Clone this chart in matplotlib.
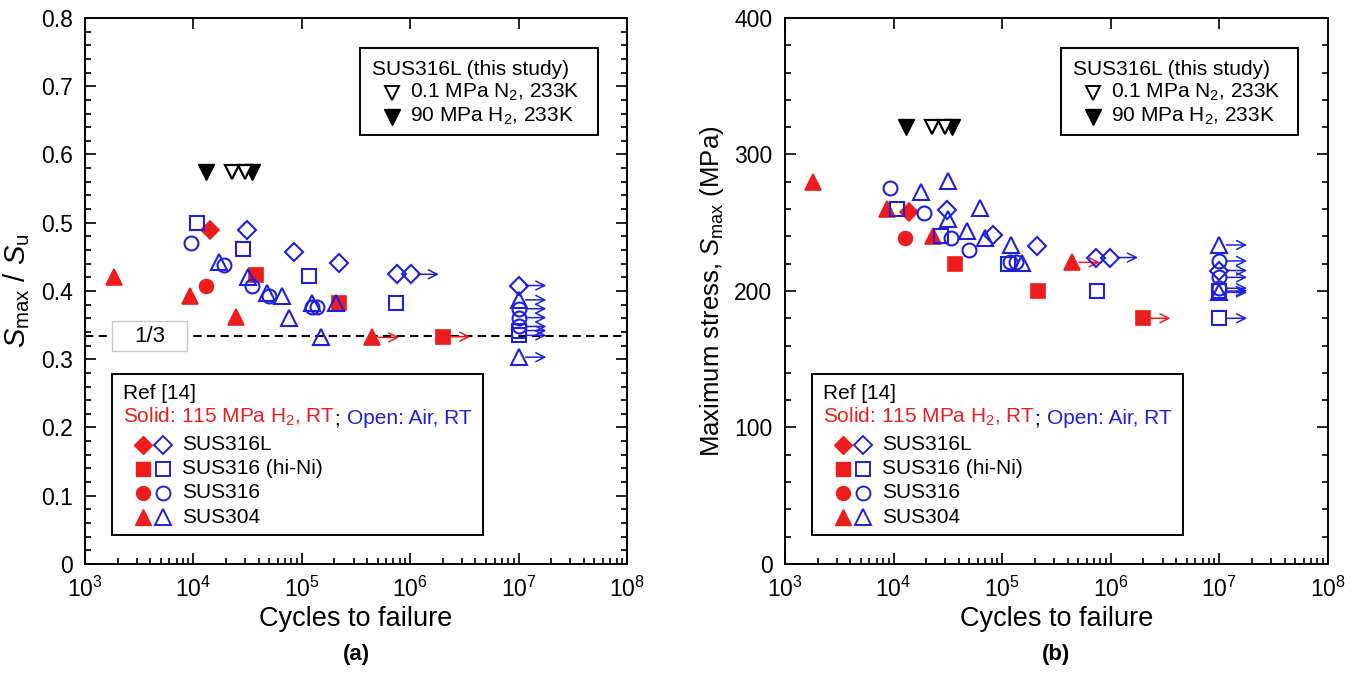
import numpy as np
import matplotlib.pyplot as plt
from matplotlib.patches import Rectangle
from matplotlib.transforms import offset_copy, blended_transform_factory
from matplotlib.ticker import LogLocator, LogFormatterMathtext, MultipleLocator, NullFormatter

plt.rcParams['font.family'] = ['Liberation Sans', 'DejaVu Sans']
plt.rcParams['mathtext.fontset'] = 'custom'
plt.rcParams['mathtext.rm'] = 'Liberation Sans'
plt.rcParams['mathtext.it'] = 'Liberation Sans:italic'
plt.rcParams['mathtext.bf'] = 'Liberation Sans:bold'

RED = '#ee1c1c'
BLUE = '#1f1fe0'

# ---- this study (SUS316L, 233K) ----
study_n2_n = [2.26e4, 3.0e4]      # 0.1 MPa N2 (open)
study_h2_n = [1.31e4, 3.46e4]     # 90 MPa H2 (filled)
study_ratio = 0.575
study_stress = 320

# ---- Ref [14], panel (a): Smax/Su ----
# solid: 115 MPa H2
a_h2_316L_n = [1.43e4]
a_h2_316L_r = [0.489]
a_h2_316hi_n = [3.8e4, 2.18e5, 1.99e6]
a_h2_316hi_r = [0.423, 0.383, 0.333]
a_h2_316hi_run = [False, False, True]
a_h2_316_n = [1.30e4]
a_h2_316_r = [0.408]
a_h2_304_n = [1.87e3, 9.3e3, 2.48e4, 4.4e5]
a_h2_304_r = [0.421, 0.392, 0.362, 0.332]
a_h2_304_run = [False, False, False, True]
# open: air
a_air_316L_n = [3.15e4, 8.5e4, 2.2e5, 7.55e5, 1.02e6, 1e7]
a_air_316L_r = [0.489, 0.457, 0.4405, 0.4245, 0.4245, 0.408]
a_air_316L_run = [False, False, False, False, True, True]
a_air_316hi_n = [1.09e4, 2.86e4, 1.16e5, 7.45e5, 1e7, 1e7]
a_air_316hi_r = [0.499, 0.461, 0.4225, 0.383, 0.342, 0.335]
a_air_316hi_run = [False, False, False, False, True, True]
a_air_316_n = [9.5e3, 1.92e4, 3.46e4, 5.0e4, 1.24e5, 1.38e5, 1e7, 1e7, 1e7]
a_air_316_r = [0.470, 0.438, 0.408, 0.392, 0.377, 0.376, 0.374, 0.361, 0.348]
a_air_316_run = [False, False, False, False, False, False, True, True, True]
a_air_304_n = [1.74e4, 3.22e4, 4.77e4, 6.55e4, 7.65e4, 1.23e5, 2.08e5, 1.5e5, 1e7, 1e7]
a_air_304_r = [0.443, 0.421, 0.397, 0.392, 0.361, 0.382, 0.382, 0.332, 0.387, 0.303]
a_air_304_run = [False] * 8 + [True, True]

# ---- Ref [14], panel (b): Smax (MPa) ----
b_h2_316L_n = [1.38e4]
b_h2_316L_s = [258]
b_h2_316hi_n = [3.66e4, 2.15e5, 1.97e6]
b_h2_316hi_s = [220, 200, 180]
b_h2_316hi_run = [False, False, True]
b_h2_316_n = [1.28e4]
b_h2_316_s = [239]
b_h2_304_n = [1.83e3, 8.7e3, 2.31e4, 4.4e5]
b_h2_304_s = [280, 260, 240.5, 221]
b_h2_304_run = [False, False, False, True]
b_air_316L_n = [3.11e4, 8.3e4, 2.1e5, 7.3e5, 9.9e5, 1e7]
b_air_316L_s = [259.5, 241.3, 232.7, 224.5, 224.5, 215]
b_air_316L_run = [False, False, False, False, True, True]
b_air_316hi_n = [1.07e4, 2.75e4, 1.13e5, 7.4e5, 1e7, 1e7]
b_air_316hi_s = [260, 240.5, 220, 200, 200, 180]
b_air_316hi_run = [False, False, False, False, True, True]
b_air_316_n = [9.2e3, 1.89e4, 3.41e4, 5.0e4, 1.17e5, 1.33e5, 1e7, 1e7, 1e7]
b_air_316_s = [275.5, 257, 239, 230, 221, 221, 222, 210, 202]
b_air_316_run = [False] * 6 + [True, True, True]
b_air_304_n = [1.77e4, 3.18e4, 3.2e4, 6.3e4, 4.77e4, 7.0e4, 1.21e5, 1.53e5, 1e7, 1e7]
b_air_304_s = [272.5, 280.6, 252.8, 260.7, 243.7, 238.8, 233.7, 220.8, 233.7, 199]
b_air_304_run = [False] * 8 + [True, True]

materials = ['SUS316L', 'SUS316 (hi-Ni)', 'SUS316', 'SUS304']
mat_markers = ['D', 's', 'o', '^']
mat_sizes = [9, 9.5, 10, 11]

fig = plt.figure(figsize=(13.56, 6.79), dpi=100)
ax1 = fig.add_axes([0.0627, 0.1694, 0.3997, 0.8041])
ax2 = fig.add_axes([0.5789, 0.1694, 0.4004, 0.8041])


def runout(ax, x, y, color):
    tail = offset_copy(ax.transData, fig=fig, x=5, y=0, units='points')
    head = offset_copy(ax.transData, fig=fig, x=20, y=0, units='points')
    ax.annotate('', xy=(x, y), xycoords=head, xytext=(x, y), textcoords=tail,
                arrowprops=dict(arrowstyle='->', color=color, lw=1.1,
                                shrinkA=0, shrinkB=0, mutation_scale=16))


def series(ax, n, v, marker, size, color, filled, run=None):
    if filled:
        ax.plot(n, v, ls='none', marker=marker, ms=size, mfc=color, mec=color, mew=1.2, zorder=3)
    else:
        ax.plot(n, v, ls='none', marker=marker, ms=size, mfc='none', mec=color, mew=1.5, zorder=4)
    if run is not None:
        for x, y, r in zip(n, v, run):
            if r:
                runout(ax, x, y, color)


# panel (a)
series(ax1, a_h2_316L_n, a_h2_316L_r, 'D', 9, RED, True)
series(ax1, a_h2_316hi_n, a_h2_316hi_r, 's', 9.5, RED, True, a_h2_316hi_run)
series(ax1, a_h2_316_n, a_h2_316_r, 'o', 10, RED, True)
series(ax1, a_h2_304_n, a_h2_304_r, '^', 11, RED, True, a_h2_304_run)
series(ax1, a_air_316L_n, a_air_316L_r, 'D', 9, BLUE, False, a_air_316L_run)
series(ax1, a_air_316hi_n, a_air_316hi_r, 's', 9.5, BLUE, False, a_air_316hi_run)
series(ax1, a_air_316_n, a_air_316_r, 'o', 10, BLUE, False, a_air_316_run)
series(ax1, a_air_304_n, a_air_304_r, '^', 11, BLUE, False, a_air_304_run)
ax1.plot(study_h2_n, [study_ratio] * 2, ls='none', marker='v', ms=11, mfc='k', mec='k', zorder=5)
ax1.plot(study_n2_n, [study_ratio] * 2, ls='none', marker='v', ms=10, mfc='w', mec='k', mew=1.6, zorder=6)

# panel (b)
series(ax2, b_h2_316L_n, b_h2_316L_s, 'D', 9, RED, True)
series(ax2, b_h2_316hi_n, b_h2_316hi_s, 's', 9.5, RED, True, b_h2_316hi_run)
series(ax2, b_h2_316_n, b_h2_316_s, 'o', 10, RED, True)
series(ax2, b_h2_304_n, b_h2_304_s, '^', 11, RED, True, b_h2_304_run)
series(ax2, b_air_316L_n, b_air_316L_s, 'D', 9, BLUE, False, b_air_316L_run)
series(ax2, b_air_316hi_n, b_air_316hi_s, 's', 9.5, BLUE, False, b_air_316hi_run)
series(ax2, b_air_316_n, b_air_316_s, 'o', 10, BLUE, False, b_air_316_run)
series(ax2, b_air_304_n, b_air_304_s, '^', 11, BLUE, False, b_air_304_run)
ax2.plot(study_h2_n, [study_stress] * 2, ls='none', marker='v', ms=11, mfc='k', mec='k', zorder=5)
ax2.plot(study_n2_n, [study_stress] * 2, ls='none', marker='v', ms=10, mfc='w', mec='k', mew=1.6, zorder=6)

# 1/3 line
ax1.axhline(1 / 3, color='k', ls='--', lw=1.5, dashes=(4, 2.5), zorder=2)
bt = blended_transform_factory(ax1.transAxes, ax1.transData)
ax1.add_patch(Rectangle((0.05, 1 / 3 - 0.022), 0.138, 0.044, transform=bt,
                        fc='w', ec='#c8c8c8', lw=1, zorder=2.5))
ax1.text(0.119, 1 / 3, '1/3', transform=bt, ha='center', va='center', fontsize=16, zorder=3)

for ax, ylim, ymaj, ymin in [(ax1, (0, 0.8), 0.1, 0.02), (ax2, (0, 400), 100, 20)]:
    ax.set_xscale('log')
    ax.set_xlim(1e3, 1e8)
    ax.set_ylim(*ylim)
    ax.xaxis.set_major_locator(LogLocator(base=10, numticks=10))
    ax.xaxis.set_minor_locator(LogLocator(base=10, subs=np.arange(2, 10), numticks=20))
    ax.xaxis.set_major_formatter(LogFormatterMathtext())
    ax.xaxis.set_minor_formatter(NullFormatter())
    ax.yaxis.set_major_locator(MultipleLocator(ymaj))
    ax.yaxis.set_minor_locator(MultipleLocator(ymin))
    ax.tick_params(which='both', direction='in', top=True, right=True, width=1.2, labelsize=16.5)
    ax.tick_params(which='major', length=8)
    ax.tick_params(axis='x', which='major', pad=9)
    ax.tick_params(axis='y', which='major', pad=9)
    ax.tick_params(which='minor', length=4.5)
    ax.tick_params(axis='x', which='minor', top=False)
    for sp in ax.spines.values():
        sp.set_linewidth(1.4)
    ax.set_xlabel('Cycles to failure', fontsize=19.5, labelpad=3)

ax1.set_yticks([0, 0.1, 0.2, 0.3, 0.4, 0.5, 0.6, 0.7, 0.8])
ax1.set_yticklabels(['0', '0.1', '0.2', '0.3', '0.4', '0.5', '0.6', '0.7', '0.8'])
ax1.set_ylabel(r'$S_{\rm max}$ / $S_{\rm u}$', fontsize=21, labelpad=6)
ax2.set_ylabel(r'Maximum stress, $S_{\rm max}$ (MPa)', fontsize=18.5, labelpad=6)

fig.text(0.2625, 0.028, '(a)', ha='center', fontsize=16, fontweight='bold')
fig.text(0.779, 0.028, '(b)', ha='center', fontsize=16, fontweight='bold')

# legend boxes
LFS = 15
box_items = []
for ax, tx in [(ax1, 0.530), (ax2, 0.530)]:
    texts = []
    t = ax.text(tx, 0.905, 'SUS316L (this study)', transform=ax.transAxes, fontsize=LFS, va='center')
    texts.append(t)
    ax.plot([tx + 0.037], [0.863], transform=ax.transAxes, ls='none', marker='v', ms=10,
            mfc='w', mec='k', mew=1.4, clip_on=False)
    texts.append(ax.text(tx + 0.070, 0.863, '0.1 MPa N$_2$, 233K', transform=ax.transAxes,
                         fontsize=LFS, va='center'))
    ax.plot([tx + 0.037], [0.819], transform=ax.transAxes, ls='none', marker='v', ms=11,
            mfc='k', mec='k', clip_on=False)
    texts.append(ax.text(tx + 0.070, 0.819, '90 MPa H$_2$, 233K', transform=ax.transAxes,
                         fontsize=LFS, va='center'))
    box_items.append((ax, texts, tx - 0.022, 0.786, 0.945, 0.033))

    texts = []
    texts.append(ax.text(0.070, 0.313, 'Ref [14]', transform=ax.transAxes, fontsize=LFS, va='center'))
    red_t = ax.text(0.070, 0.269, 'Solid: 115 MPa H$_2$, RT', transform=ax.transAxes,
                    fontsize=LFS, va='center', color=RED)
    semi = ax.annotate('; ', xy=(1, 0), xycoords=red_t, va='bottom', ha='left', fontsize=LFS)
    blue_t = ax.annotate('Open: Air, RT', xy=(1, 0), xycoords=semi, va='bottom', ha='left',
                         fontsize=LFS, color=BLUE)
    texts.append(blue_t)
    for k, (name, mk, sz) in enumerate(zip(materials, mat_markers, mat_sizes)):
        yy = 0.218 - k * 0.044
        ax.plot([0.107], [yy], transform=ax.transAxes, ls='none', marker=mk, ms=sz,
                mfc=RED, mec=RED, clip_on=False)
        ax.plot([0.144], [yy], transform=ax.transAxes, ls='none', marker=mk, ms=sz,
                mfc='none', mec=BLUE, mew=1.4, clip_on=False)
        texts.append(ax.text(0.179, yy, name, transform=ax.transAxes, fontsize=LFS, va='center'))
    box_items.append((ax, texts, 0.05, 0.053, 0.348, 0.022))

fig.canvas.draw()
r = fig.canvas.get_renderer()
for ax, texts, x0, y0, y1, padr in box_items:
    right = max(ax.transAxes.inverted().transform(t.get_window_extent(r))[1, 0] for t in texts)
    ax.add_patch(Rectangle((x0, y0), right + padr - x0, y1 - y0, transform=ax.transAxes,
                           fc='w', ec='k', lw=1.4, zorder=1))

fig.savefig('out.png', dpi=100)
